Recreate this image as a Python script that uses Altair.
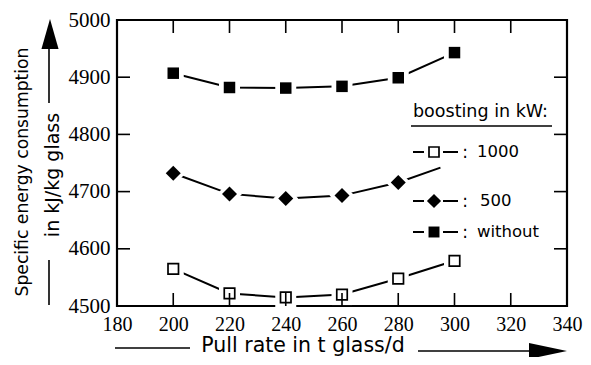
import altair as alt
import pandas as pd

# ---- data ----
pull_rate = [200, 220, 240, 260, 280, 300]
energy_without = [4907, 4882, 4881, 4884, 4899, 4943]
energy_500 = [4732, 4696, 4688, 4693, 4716]
energy_500_stub_x = [280, 295]
energy_500_stub_y = [4716, 4742]
energy_1000 = [4565, 4522, 4515, 4520, 4548, 4579]

x_label_values = [180, 200, 220, 240, 260, 280, 300, 320, 340]
y_label_values = [4500, 4600, 4700, 4800, 4900, 5000]
x_tick_values = [200, 220, 240, 260, 280, 300, 320]
y_tick_values = [4600, 4700, 4800, 4900]

FONT = "DejaVu Sans"
LFONT = "Liberation Sans Narrow"
W, H = 450, 286

df_without = pd.DataFrame({"x": pull_rate, "y": energy_without})
df_500 = pd.DataFrame({"x": pull_rate[:5], "y": energy_500})
df_500_line = pd.DataFrame({"x": pull_rate[:5] + energy_500_stub_x[1:],
                            "y": energy_500 + energy_500_stub_y[1:]})
df_1000 = pd.DataFrame({"x": pull_rate, "y": energy_1000})
df_xt = pd.DataFrame({"x": x_tick_values})
df_yt = pd.DataFrame({"y": y_tick_values})
one = pd.DataFrame({"a": [0]})

X = alt.X("x:Q", scale=alt.Scale(domain=[180, 340], nice=False, zero=False),
          axis=alt.Axis(values=x_label_values, title=None, labelPadding=8, format="d",
                        labelFontSize=20))
Y = alt.Y("y:Q", scale=alt.Scale(domain=[4500, 5000], nice=False, zero=False),
          axis=alt.Axis(values=y_label_values, title=None, labelPadding=7, format="d",
                        labelFontSize=21))


def line(df):
    return alt.Chart(df).mark_line(color="black", strokeWidth=2).encode(x=X, y=Y)


def halo(df, shape, size):
    return alt.Chart(df).mark_point(shape=shape, filled=True, color="white",
                                    opacity=1, size=size).encode(x=X, y=Y)


def marker(df, shape, size, filled):
    return alt.Chart(df).mark_point(shape=shape, filled=filled, color="black",
                                    opacity=1, size=size, strokeWidth=1.7).encode(x=X, y=Y)


def dtext(txt, x, y, size=19, angle=0, align="center", baseline="middle"):
    return alt.Chart(one).mark_text(text=txt, font=FONT, fontSize=size, color="black",
                                    angle=angle, align=align, baseline=baseline).encode(
        x=alt.value(x), y=alt.value(y))


def drule(x1, y1, x2, y2, w=1.6):
    return alt.Chart(one).mark_rule(color="black", strokeWidth=w).encode(
        x=alt.value(x1), x2=alt.value(x2), y=alt.value(y1), y2=alt.value(y2))


def dsym(shape, x, y, size, filled=True, w=1.7):
    return alt.Chart(one).mark_point(shape=shape, filled=filled, color="black", opacity=1,
                                     size=size, strokeWidth=w).encode(x=alt.value(x), y=alt.value(y))


TL = 13
ticks = [
    alt.Chart(df_yt).mark_rule(color="black", strokeWidth=1.6).encode(
        x=alt.value(0), x2=alt.value(TL), y=Y),
    alt.Chart(df_yt).mark_rule(color="black", strokeWidth=1.6).encode(
        x=alt.value(W - TL), x2=alt.value(W), y=Y),
    alt.Chart(df_xt).mark_rule(color="black", strokeWidth=1.6).encode(
        x=X, y=alt.value(H), y2=alt.value(H - TL)),
    alt.Chart(df_xt).mark_rule(color="black", strokeWidth=1.6).encode(
        x=X, y=alt.value(0), y2=alt.value(TL)),
]

series = [
    line(df_without), line(df_500_line), line(df_1000),
    halo(df_without, "square", 441), halo(df_500, "diamond", 625), halo(df_1000, "square", 441),
    marker(df_without, "square", 132, True),
    marker(df_500, "diamond", 225, True),
    marker(df_1000, "square", 110, False),
]

LX = 296
legend = [
    dtext("boosting in kW:", LX, 97, size=17.5, align="left", baseline="alphabetic"),
    drule(LX - 2, 106, 435, 106, 1.6),
]
for yy, shape, size, filled, lab, lx in [
    (132, "square", 100, False, "1000", 360),
    (181, "diamond", 200, True, "500", 363),
    (212, "square", 120, True, "without", 360),
]:
    legend += [
        drule(LX, yy, LX + 11, yy, 2),
        dsym(shape, LX + 21, yy, size, filled),
        drule(LX + 30, yy, LX + 45, yy, 2),
        dtext(":", 348, yy + 1, size=17),
        dtext(lab, lx, yy, size=16.5, align="left"),
    ]

ARROW_UP = "M0,-1L0.57,1L-0.57,1Z"
ARROW_RIGHT = "M1,0L-1,0.42L-1,-0.42Z"
titles = [
    dtext("Specific energy consumption", -94, 152, size=17.2, angle=270),
    dtext("in kJ/kg glass", -64, 155, size=19, angle=270),
    drule(-68, 240, -68, 285, 1.6),
    drule(-68, 28, -68, 83, 1.6),
    dsym(ARROW_UP, -67, 14, 900),
    dtext("Pull rate in t glass/d", 186, 332, size=20.5, baseline="alphabetic"),
    drule(-2, 328, 73, 328, 1.6),
    drule(301, 331, 420, 331, 1.6),
    dsym(ARROW_RIGHT, 431, 331, 1444),
]

chart = alt.layer(*(series + ticks + legend + titles)).properties(
    width=W, height=H,
    autosize=alt.AutoSizeParams(type="none"),
    padding={"left": 109, "top": 12, "right": 16, "bottom": 51},
).configure_view(
    stroke="black", strokeWidth=2.2
).configure_axis(
    domain=False, ticks=False, grid=False,
    labelFont=LFONT, labelColor="black",
    labelFlush=False, labelOverlap=False,
)

chart.save("out.html", embed_options={"renderer": "svg", "actions": False})
